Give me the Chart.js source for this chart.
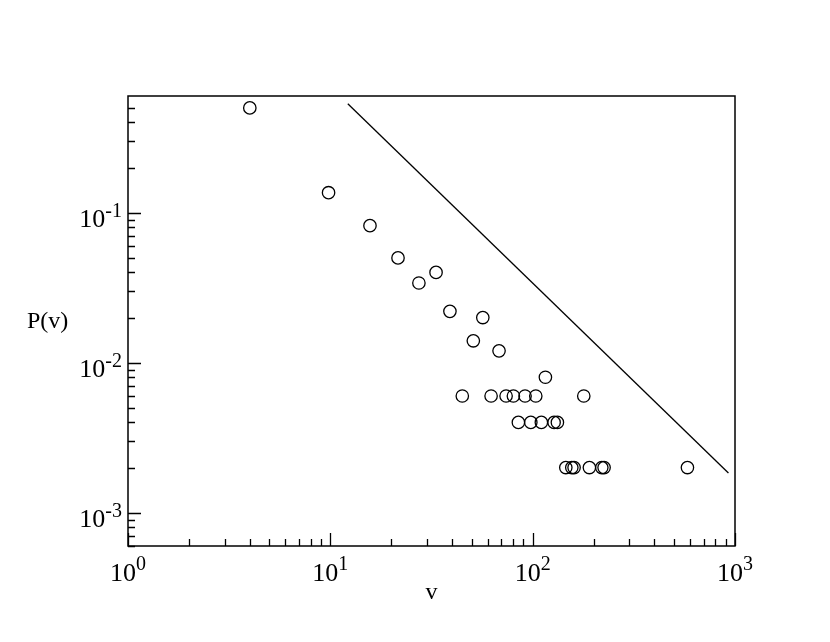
<!DOCTYPE html>
<html>
<head>
<meta charset="utf-8">
<script src="https://cdn.jsdelivr.net/npm/chart.js@4.4.0/dist/chart.umd.min.js"></script>
<style>
    html, body { margin: 0; padding: 0; background: #fff; }
    #chart { display: block; }
</style>
</head>
<body>
<canvas id="chart" width="830" height="642"></canvas>
<script>
// measured points (v, P(v))
const vValues = [4, 9.8, 15.7, 21.6, 27.4, 33.3, 39, 56.7, 50.9, 68.2, 115.6,
    44.9, 62.3, 73.9, 80.3, 91.7, 103.6, 178.9,
    85, 97.9, 110.4, 127.6, 132.5,
    145.8, 156.1, 160.2, 190.7, 219.6, 225.4, 582];
const pValues = [0.5, 0.136, 0.082, 0.05, 0.034, 0.04, 0.022, 0.02, 0.014, 0.012, 0.008,
    0.006, 0.006, 0.006, 0.006, 0.006, 0.006, 0.006,
    0.004, 0.004, 0.004, 0.004, 0.004,
    0.002, 0.002, 0.002, 0.002, 0.002, 0.002, 0.002];

// power-law guide line, two end points
const fitV = [12.2, 928];
const fitP = [0.532, 0.00184];

// axes
const xMajorTicks = [1, 10, 100, 1000];
const xTickExponents = ['0', '1', '2', '3'];
const yMajorTicks = [0.001, 0.01, 0.1];
const yTickExponents = ['-3', '-2', '-1'];
const minorSteps = [2, 3, 4, 5, 6, 7, 8, 9];
const xRange = [1, 1000];
const yRange = [0.0006, 0.6];

const FONT = '"Liberation Serif", "Times New Roman", serif';

// draws the xmgrace-like frame, inside ticks and labels
const framePlugin = {
    id: 'frame',
    afterDraw(chart) {
        const ctx = chart.ctx;
        const area = chart.chartArea;
        const xs = chart.scales.x;
        const ys = chart.scales.y;
        ctx.save();
        ctx.strokeStyle = '#000';
        ctx.lineWidth = 1.5;
        ctx.strokeRect(area.left, area.top, area.right - area.left, area.bottom - area.top);

        ctx.lineWidth = 1.3;
        ctx.beginPath();
        // x ticks
        xMajorTicks.forEach((t, i) => {
            const px = Math.round(xs.getPixelForValue(t)) + 0.5;
            ctx.moveTo(px, area.bottom);
            ctx.lineTo(px, area.bottom - 13);
            if (i < xMajorTicks.length - 1) {
                minorSteps.forEach(m => {
                    const mx = Math.round(xs.getPixelForValue(t * m)) + 0.5;
                    ctx.moveTo(mx, area.bottom);
                    ctx.lineTo(mx, area.bottom - 7);
                });
            }
        });
        // y ticks
        const yDecades = [0.0001, 0.001, 0.01, 0.1];
        yDecades.forEach(t => {
            minorSteps.forEach(m => {
                const v = t * m;
                if (v <= yRange[0] || v >= yRange[1]) return;
                const my = Math.round(ys.getPixelForValue(v)) + 0.5;
                ctx.moveTo(area.left, my);
                ctx.lineTo(area.left + 7, my);
            });
        });
        yMajorTicks.forEach(t => {
            const py = Math.round(ys.getPixelForValue(t)) + 0.5;
            ctx.moveTo(area.left, py);
            ctx.lineTo(area.left + 13, py);
        });
        ctx.stroke();

        // tick labels with superscript exponents
        ctx.fillStyle = '#000';
        ctx.textBaseline = 'alphabetic';
        ctx.textAlign = 'left';
        const baseFont = '26px ' + FONT;
        const supFont = '20px ' + FONT;
        xMajorTicks.forEach((t, i) => {
            const px = xs.getPixelForValue(t);
            ctx.font = baseFont;
            const w1 = ctx.measureText('10').width;
            ctx.font = supFont;
            const w2 = ctx.measureText(xTickExponents[i]).width;
            const x0 = px - (w1 + w2) / 2;
            ctx.font = baseFont;
            ctx.fillText('10', x0, area.bottom + 35);
            ctx.font = supFont;
            ctx.fillText(xTickExponents[i], x0 + w1, area.bottom + 24);
        });
        yMajorTicks.forEach((t, i) => {
            const py = ys.getPixelForValue(t);
            ctx.font = baseFont;
            const w1 = ctx.measureText('10').width;
            ctx.font = supFont;
            const w2 = ctx.measureText(yTickExponents[i]).width;
            const x0 = area.left - 6 - w1 - w2;
            ctx.font = baseFont;
            ctx.fillText('10', x0, py + 14);
            ctx.font = supFont;
            ctx.fillText(yTickExponents[i], x0 + w1, py + 4);
        });

        // axis titles
        ctx.font = '24px ' + FONT;
        ctx.textAlign = 'center';
        ctx.fillText('v', (area.left + area.right) / 2, area.bottom + 53);
        ctx.textAlign = 'left';
        ctx.fillText('P(v)', 27, 328);
        ctx.restore();
    }
};

const pointData = vValues.map((v, i) => ({ x: v, y: pValues[i] }));
const fitData = fitV.map((v, i) => ({ x: v, y: fitP[i] }));

new Chart(document.getElementById('chart'), {
    type: 'scatter',
    data: {
        datasets: [{
            label: 'P(v)',
            data: pointData,
            pointStyle: 'circle',
            pointRadius: 6.2,
            pointBorderWidth: 1.3,
            pointBackgroundColor: 'rgba(0,0,0,0)',
            pointBorderColor: '#000',
            showLine: false
        }, {
            label: 'fit',
            data: fitData,
            showLine: true,
            borderColor: '#000',
            borderWidth: 1.3,
            pointRadius: 0
        }]
    },
    options: {
        responsive: false,
        animation: false,
        devicePixelRatio: 1,
        layout: { padding: { left: 128, right: 95, top: 96, bottom: 96 } },
        plugins: {
            legend: { display: false },
            tooltip: { enabled: false }
        },
        scales: {
            x: { type: 'logarithmic', min: xRange[0], max: xRange[1], display: false },
            y: { type: 'logarithmic', min: yRange[0], max: yRange[1], display: false }
        }
    },
    plugins: [framePlugin]
});
</script>
</body>
</html>
